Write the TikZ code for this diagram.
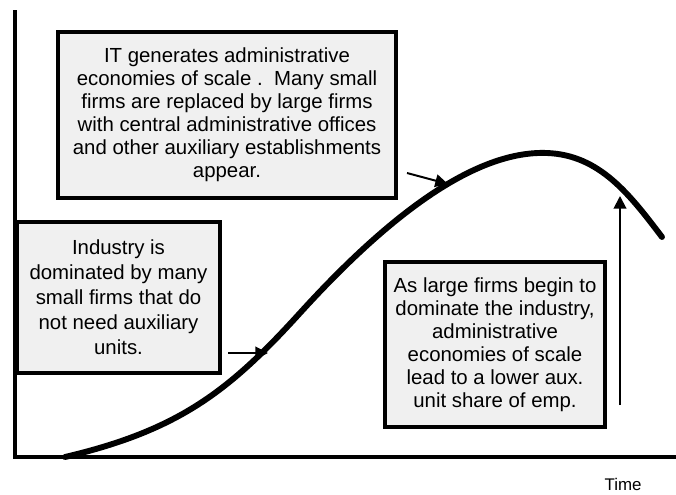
\documentclass[tikz,border=0pt]{standalone}
\usepackage{fontspec}
\setmainfont{Liberation Sans}
\usetikzlibrary{arrows.meta}
\definecolor{NoteGrey}{HTML}{F0F0F0}

\begin{document}
\begin{tikzpicture}[x=0.025cm, y=-0.025cm,
    note/.style={draw, line width=2.4pt, fill=NoteGrey, align=center,
                 inner sep=0pt, font=\fontsize{14.5}{16.4}\selectfont},
    pointer/.style={-{Triangle[length=9pt, width=9pt]}, line width=1.4pt}]
  \useasboundingbox (0,0) rectangle (676,494);

  % axes and the life-cycle curve
  \draw[line width=3.2pt] (15,10) -- (15,457) -- (676,457);
  \node[font=\fontsize{12}{14}\selectfont, anchor=base] (time) at (623,490) {Time};
  \draw[line width=4.2pt, line cap=round]
    (65,457) .. controls (180,430) and (230,390) .. (300,313)
             .. controls (380,225) and (470,150) .. (547,153)
             .. controls (600,155) and (630,195) .. (662,237);

  % the three stages
  \node[note, minimum width=8.45cm, minimum height=4.15cm] (itstage) at (227,115)
    {IT generates administrative\\
     economies of scale .\ \ Many small\\
     firms are replaced by large firms\\
     with central administrative offices\\
     and other auxiliary establishments\\
     appear.};
  \node[note, minimum width=5.075cm, minimum height=3.775cm,
        font=\fontsize{14.5}{17.8}\selectfont] (smallfirms) at (118.5,297.5)
    {Industry is\\
     dominated by many\\
     small firms that do\\
     not need auxiliary\\
     units.};
  \node[note, minimum width=5.5cm, minimum height=4.125cm] (largefirms) at (495,344.5)
    {As large firms begin to\\
     dominate the industry,\\
     administrative\\
     economies of scale\\
     lead to a lower aux.\\
     unit share of emp.};

  % pointers onto the curve
  \coordinate (smallTail) at (228,353);
  \coordinate (smallTip) at (268,353);
  \coordinate (itTail) at (407,173);
  \coordinate (itTip) at (448,184);
  \coordinate (largeTail) at (620,405);
  \coordinate (largeTip) at (620,196);
  \draw[pointer] (smallTail) -- (smallTip);
  \draw[pointer] (itTail) -- (itTip);
  \draw[pointer] (largeTail) -- (largeTip);
\end{tikzpicture}
\end{document}
